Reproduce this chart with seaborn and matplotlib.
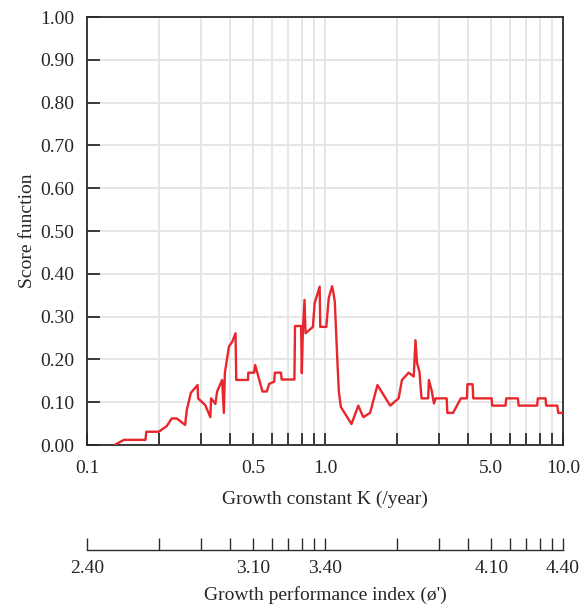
import matplotlib
matplotlib.use("Agg")
import matplotlib.pyplot as plt
import seaborn as sns
import pandas as pd
from matplotlib.ticker import FixedLocator, FixedFormatter, NullLocator

# Score function (K in /year, score 0-1)
k_values = [
    0.1305, 0.1430, 0.1760, 0.1775, 0.2000, 0.2162, 0.2270, 0.2383, 0.2584,
    0.2627, 0.2732, 0.2915, 0.2930, 0.3141, 0.3298, 0.3321, 0.3463, 0.3521,
    0.3697, 0.3758, 0.3795, 0.3947, 0.4075, 0.4208, 0.4237, 0.4750, 0.4760,
    0.5036, 0.5086, 0.5200, 0.5461, 0.5694, 0.5830, 0.6119, 0.6155, 0.6531,
    0.6576, 0.7439, 0.7482, 0.7937, 0.7992, 0.8069, 0.8203, 0.8283, 0.8896,
    0.9045, 0.9496, 0.9552, 1.0127, 1.0368, 1.0707, 1.0850, 1.0993, 1.1274,
    1.1433, 1.1654, 1.2922, 1.3797, 1.4488, 1.5468, 1.6609, 1.8797, 2.0387,
    2.1055, 2.2471, 2.3600, 2.3995, 2.4374, 2.4946, 2.5440, 2.7135, 2.7318,
    2.8049, 2.8684, 2.9164, 3.2461, 3.2655, 3.4518, 3.7223, 3.9465, 3.9693,
    4.1687, 4.1975, 5.0165, 5.0362, 5.7346, 5.7730, 6.4654, 6.5103, 7.7840,
    7.8380, 8.4472, 8.4962, 9.4584, 9.5522, 10.0,
]
score_values = [
    0.000, 0.012, 0.012, 0.031, 0.031, 0.044, 0.062, 0.062, 0.047,
    0.082, 0.122, 0.140, 0.109, 0.093, 0.065, 0.109, 0.096, 0.125,
    0.152, 0.075, 0.168, 0.230, 0.241, 0.261, 0.152, 0.152, 0.169,
    0.169, 0.187, 0.168, 0.125, 0.125, 0.143, 0.148, 0.169, 0.169,
    0.153, 0.153, 0.278, 0.278, 0.168, 0.265, 0.339, 0.261, 0.276,
    0.331, 0.370, 0.276, 0.276, 0.343, 0.371, 0.355, 0.335, 0.195,
    0.125, 0.089, 0.049, 0.092, 0.065, 0.075, 0.140, 0.092, 0.109,
    0.152, 0.169, 0.160, 0.245, 0.191, 0.171, 0.109, 0.109, 0.152,
    0.128, 0.097, 0.109, 0.109, 0.075, 0.075, 0.109, 0.109, 0.142,
    0.142, 0.109, 0.109, 0.092, 0.092, 0.109, 0.109, 0.092, 0.092,
    0.109, 0.109, 0.092, 0.092, 0.075, 0.075,
]

k_ticks = [0.1, 0.2, 0.3, 0.4, 0.5, 0.6, 0.7, 0.8, 0.9, 1.0,
           2.0, 3.0, 4.0, 5.0, 6.0, 7.0, 8.0, 9.0, 10.0]
k_tick_labels = {0.1: "0.1", 0.5: "0.5", 1.0: "1.0", 5.0: "5.0", 10.0: "10.0"}
phi_tick_labels = {0.1: "2.40", 0.5: "3.10", 1.0: "3.40", 5.0: "4.10", 10.0: "4.40"}
y_ticks = [0.0, 0.1, 0.2, 0.3, 0.4, 0.5, 0.6, 0.7, 0.8, 0.9, 1.0]

sns.set_style("white")
plt.rcParams['font.family'] = ['Liberation Serif', 'DejaVu Serif']
plt.rcParams['font.size'] = 14

W, H = 581, 610
fig = plt.figure(figsize=(W / 100, H / 100), dpi=100)

left, right = 87 / W, 563 / W
ax = fig.add_axes([left, 1 - 445 / H, right - left, (445 - 17) / H])

df = pd.DataFrame({"K": k_values, "score": score_values})
sns.lineplot(data=df, x="K", y="score", sort=False, estimator=None,
             color="#e8262b", linewidth=1.7, ax=ax, zorder=3)

ax.set_xscale("log")
ax.set_xlim(0.1, 10)
ax.set_ylim(0, 1)
ax.xaxis.set_major_locator(FixedLocator(k_ticks))
ax.xaxis.set_major_formatter(FixedFormatter([k_tick_labels.get(t, "") for t in k_ticks]))
ax.xaxis.set_minor_locator(NullLocator())
ax.set_yticks(y_ticks)
ax.set_yticklabels([f"{v:.2f}" for v in y_ticks])

ax.grid(True, color="#e4e4e4", linewidth=1.3)
ax.set_axisbelow(True)
for s in ax.spines.values():
    s.set_color("#2b2b2b")
    s.set_linewidth(1.3)
ax.tick_params(axis="both", direction="in", length=9, width=1.3, color="#2b2b2b",
               labelsize=14, bottom=True, left=True)
ax.tick_params(axis="x", pad=11)
ax.tick_params(axis="y", pad=9)

ax.set_xlabel("Growth constant K (/year)", fontsize=14, labelpad=10)
ax.set_ylabel("Score function", fontsize=14, labelpad=3)

# secondary scale: growth performance index
ax2 = fig.add_axes([left, 1 - 550 / H, right - left, 0.0001])
ax2.set_xscale("log")
ax2.set_xlim(0.1, 10)
ax2.xaxis.set_major_locator(FixedLocator(k_ticks))
ax2.xaxis.set_major_formatter(FixedFormatter([phi_tick_labels.get(t, "") for t in k_ticks]))
ax2.xaxis.set_minor_locator(NullLocator())
ax2.set_yticks([])
for side in ["top", "left", "right"]:
    ax2.spines[side].set_visible(False)
ax2.spines["bottom"].set_color("#2b2b2b")
ax2.spines["bottom"].set_linewidth(1.0)
ax2.patch.set_visible(False)
ax2.tick_params(axis="x", direction="in", length=9, width=1.0, color="#2b2b2b",
                labelsize=14, pad=7, bottom=True)
ax2.set_xlabel("Growth performance index (\u00f8')", fontsize=14, labelpad=7)

fig.savefig("out.png", dpi=100)
